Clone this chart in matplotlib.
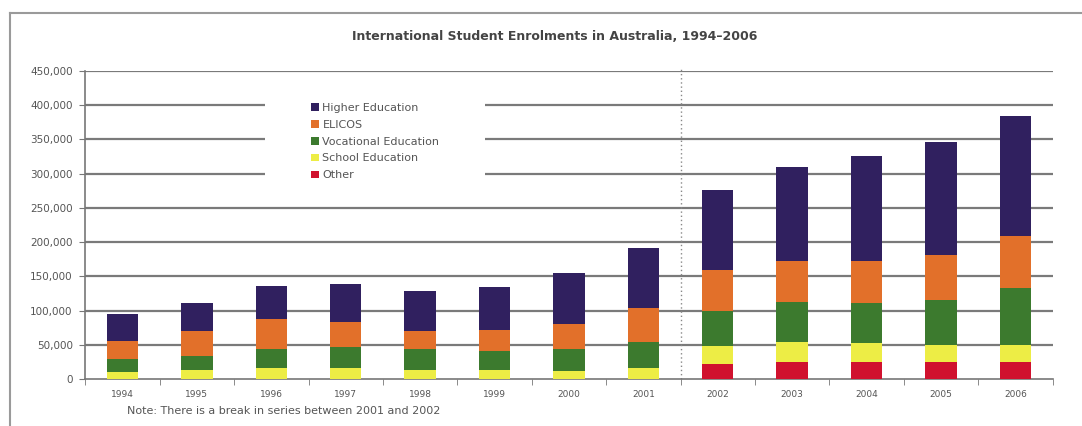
import matplotlib
matplotlib.use("Agg")
import matplotlib.pyplot as plt
from matplotlib.lines import Line2D
from matplotlib.patches import Rectangle
from matplotlib.ticker import FuncFormatter
import numpy as np

years = ["1994", "1995", "1996", "1997", "1998", "1999", "2000", "2001",
         "2002", "2003", "2004", "2005", "2006"]
series_names = ["Other", "School Education", "Vocational Education", "ELICOS", "Higher Education"]
other = [0, 0, 0, 0, 0, 0, 0, 0, 22000, 25500, 25500, 24500, 24500]
school = [10700, 13200, 15600, 16100, 13200, 13200, 12100, 15500, 25700, 28000, 27500, 25500, 25500]
vocational = [18600, 20000, 27800, 30800, 30200, 28300, 31300, 38500, 51000, 58300, 58400, 65500, 83500]
elicos = [26900, 36600, 43600, 35700, 27000, 30400, 36600, 50000, 60700, 60200, 60400, 65800, 76000]
higher = [38100, 41700, 48400, 55700, 58100, 62500, 74500, 87500, 116600, 138000, 153500, 164400, 175000]
colors = ["#D0122E", "#EDED45", "#3C7A2E", "#E2702A", "#30205F"]
yticks = [0, 50000, 100000, 150000, 200000, 250000, 300000, 350000, 400000, 450000]

fig = plt.figure(figsize=(10.82, 4.26), dpi=100)
fig.patch.set_facecolor("white")

# outer chart frame (top and left edges visible)
fig.add_artist(Line2D([10/1082, 1.0], [1 - 13/426, 1 - 13/426], color="#9a9a9a", lw=1.5))
fig.add_artist(Line2D([10/1082, 10/1082], [0.0, 1 - 13/426], color="#9a9a9a", lw=1.5))

ax = fig.add_axes([85.3/1082, 47/426, 967.2/1082, 308/426])
x = np.arange(len(years))
data = [other, school, vocational, elicos, higher]
bottom = np.zeros(len(years))
handles = []
for name, vals, c in zip(series_names, data, colors):
    b = ax.bar(x, vals, width=0.42, bottom=bottom, color=c, label=name, zorder=3)
    handles.append(b)
    bottom += np.array(vals)

for t in yticks[1:]:
    ax.axhline(t, color="#7a7a7a", lw=1.6, zorder=1)

# white patch behind the legend
ax.add_patch(Rectangle((0.186, 0.627), 0.227, 0.305, transform=ax.transAxes,
                       facecolor="white", edgecolor="none", zorder=2))

ax.axvline(7.5, ymin=0, ymax=1.01, color="#888888", lw=1, ls=(0, (1, 2)), zorder=2, clip_on=False)

ax.set_xlim(-0.5, len(years) - 0.5)
ax.set_ylim(0, 450000)
ax.set_yticks(yticks)
ax.yaxis.set_major_formatter(FuncFormatter(lambda v, p: f"{int(v):,}"))
ax.set_xticks(x)
ax.set_xticklabels(years)
ax.set_xticks(np.arange(-0.5, len(years), 1.0), minor=True)
ax.tick_params(axis="x", which="major", length=0, labelsize=6.5, labelcolor="#555555", pad=8)
ax.tick_params(axis="x", which="minor", length=4, color="#777777", direction="out")
ax.tick_params(axis="y", length=4, color="#777777", labelsize=7.5, labelcolor="#555555", pad=5)
for s in ["top", "right"]:
    ax.spines[s].set_visible(False)
for s in ["left", "bottom"]:
    ax.spines[s].set_color("#777777")
    ax.spines[s].set_linewidth(1.2)

leg = ax.legend(handles[::-1], series_names[::-1], loc="upper left",
                bbox_to_anchor=(0.228, 0.915), frameon=False, fontsize=8,
                handlelength=0.7, handleheight=0.7, handletextpad=0.3,
                labelspacing=0.62, borderpad=0)
for t in leg.get_texts():
    t.set_color("#555555")
leg.set_zorder(5)

fig.text(555/1082, 1 - 37/426, "International Student Enrolments in Australia, 1994\u20132006",
         ha="center", va="center", fontsize=9, fontweight="bold", color="#444444")
fig.text(127/1082, 1 - 411/426, "Note: There is a break in series between 2001 and 2002",
         ha="left", va="center", fontsize=8, color="#555555")

fig.savefig("out.png", dpi=100, facecolor="white")
